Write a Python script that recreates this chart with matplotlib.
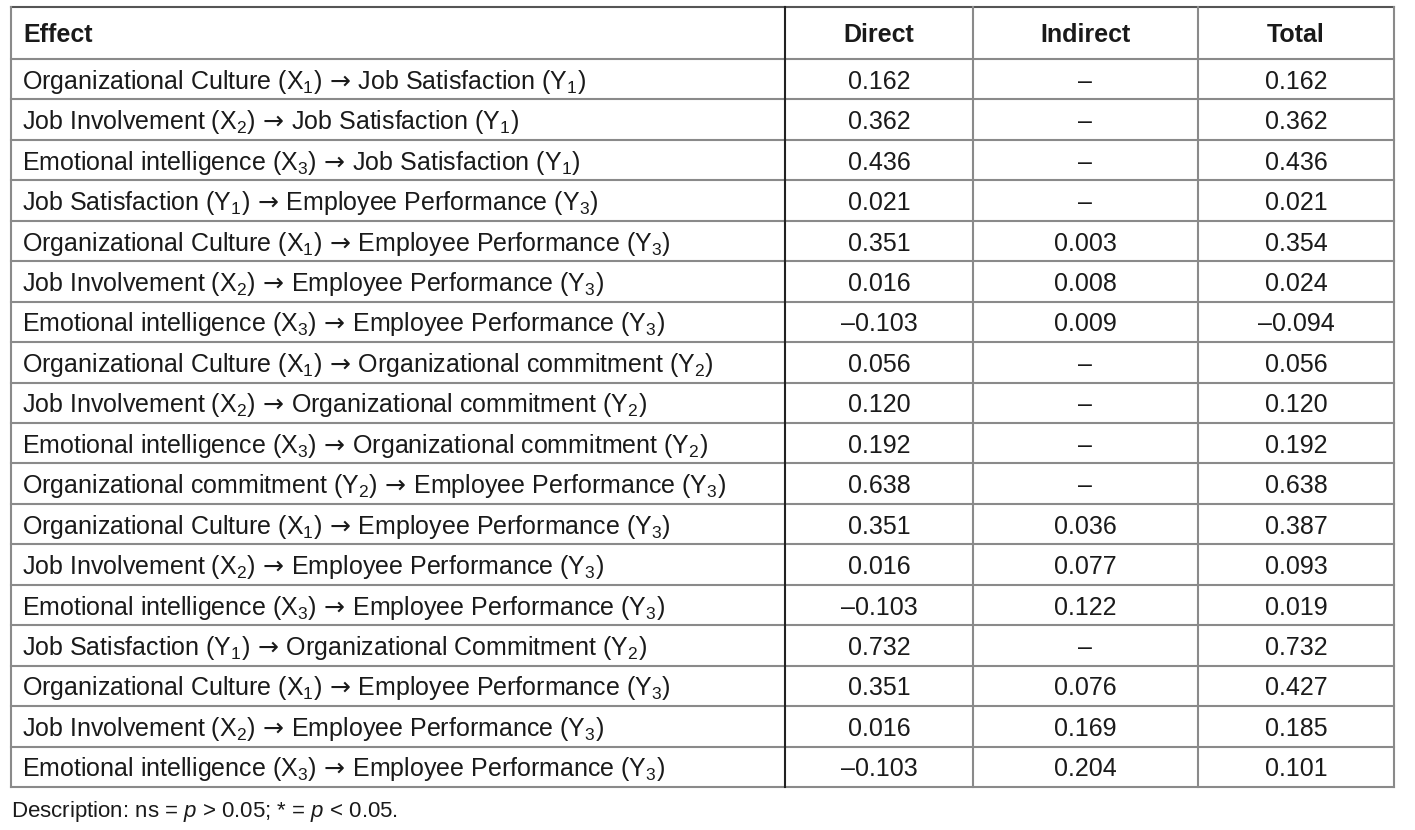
import matplotlib
matplotlib.use('Agg')
import matplotlib.pyplot as plt

plt.rcParams['font.family'] = ['Liberation Sans', 'DejaVu Sans']
plt.rcParams['mathtext.fontset'] = 'custom'
plt.rcParams['mathtext.rm'] = 'Liberation Sans'
plt.rcParams['mathtext.it'] = 'Liberation Sans:italic'
plt.rcParams['mathtext.bf'] = 'Liberation Sans:bold'
plt.rcParams['mathtext.sf'] = 'DejaVu Sans'

headers = ['Effect', 'Direct', 'Indirect', 'Total']

# arrow drawn in DejaVu (bigger than the Liberation one), thin space each side
AR = r'$\,\mathsf{\rightarrow}\,$'
effects = [
    'Organizational Culture (X$_1$)' + AR + 'Job Satisfaction (Y$_1$)',
    'Job Involvement (X$_2$)' + AR + 'Job Satisfaction (Y$_1$)',
    'Emotional intelligence (X$_3$)' + AR + 'Job Satisfaction (Y$_1$)',
    'Job Satisfaction (Y$_1$)' + AR + 'Employee Performance (Y$_3$)',
    'Organizational Culture (X$_1$)' + AR + 'Employee Performance (Y$_3$)',
    'Job Involvement (X$_2$)' + AR + 'Employee Performance (Y$_3$)',
    'Emotional intelligence (X$_3$)' + AR + 'Employee Performance (Y$_3$)',
    'Organizational Culture (X$_1$)' + AR + 'Organizational commitment (Y$_2$)',
    'Job Involvement (X$_2$)' + AR + 'Organizational commitment (Y$_2$)',
    'Emotional intelligence (X$_3$)' + AR + 'Organizational commitment (Y$_2$)',
    'Organizational commitment (Y$_2$)' + AR + 'Employee Performance (Y$_3$)',
    'Organizational Culture (X$_1$)' + AR + 'Employee Performance (Y$_3$)',
    'Job Involvement (X$_2$)' + AR + 'Employee Performance (Y$_3$)',
    'Emotional intelligence (X$_3$)' + AR + 'Employee Performance (Y$_3$)',
    'Job Satisfaction (Y$_1$)' + AR + 'Organizational Commitment (Y$_2$)',
    'Organizational Culture (X$_1$)' + AR + 'Employee Performance (Y$_3$)',
    'Job Involvement (X$_2$)' + AR + 'Employee Performance (Y$_3$)',
    'Emotional intelligence (X$_3$)' + AR + 'Employee Performance (Y$_3$)',
]
direct = ['0.162', '0.362', '0.436', '0.021', '0.351', '0.016', '\u20130.103',
          '0.056', '0.120', '0.192', '0.638', '0.351', '0.016', '\u20130.103',
          '0.732', '0.351', '0.016', '\u20130.103']
indirect = ['\u2013', '\u2013', '\u2013', '\u2013', '0.003', '0.008', '0.009',
            '\u2013', '\u2013', '\u2013', '\u2013', '0.036', '0.077', '0.122',
            '\u2013', '0.076', '0.169', '0.204']
total = ['0.162', '0.362', '0.436', '0.021', '0.354', '0.024', '\u20130.094',
         '0.056', '0.120', '0.192', '0.638', '0.387', '0.093', '0.019',
         '0.732', '0.427', '0.185', '0.101']
note = 'Description: ns = $p$ > 0.05; * = $p$ < 0.05.'

# layout in pixels
W, H = 1415, 830
col_x = [11, 785, 973, 1198, 1394]
top, head_bot, bottom = 7, 59, 787
n = len(effects)
row_h = (bottom - head_bot) / n
line_c = '#8a8a8a'
fs = 18
txt_c = '#1a1a1a'

fig = plt.figure(figsize=(W / 100, H / 100), dpi=100)
ax = fig.add_axes([0, 0, 1, 1])
ax.set_xlim(0, W)
ax.set_ylim(H, 0)
ax.axis('off')

# grid lines
ax.plot([col_x[0], col_x[-1]], [top, top], color='#555555', lw=1.5)
ax.plot([col_x[0], col_x[-1]], [head_bot, head_bot], color=line_c, lw=1.5)
for i in range(1, n + 1):
    y = head_bot + i * row_h
    ax.plot([col_x[0], col_x[-1]], [y, y], color=line_c, lw=1.5)
for j, x in enumerate(col_x):
    c = '#222222' if j == 1 else line_c
    ax.plot([x, x], [top, bottom], color=c, lw=1.5)

# header
hy = top + 35
ax.text(col_x[0] + 12, hy, headers[0], ha='left', va='baseline', fontsize=fs,
        fontweight='bold', color=txt_c)
for j in range(1, 4):
    ax.text((col_x[j] + col_x[j + 1]) / 2, hy, headers[j], ha='center',
            va='baseline', fontsize=fs, fontweight='bold', color=txt_c)

# body
for i in range(n):
    y = head_bot + (i + 0.5) * row_h + 9.5
    ax.text(col_x[0] + 11, y, effects[i], ha='left', va='baseline', fontsize=fs,
            color=txt_c)
    for j, vals in enumerate([direct, indirect, total], start=1):
        ax.text((col_x[j] + col_x[j + 1]) / 2, y, vals[i], ha='center',
                va='baseline', fontsize=fs, color=txt_c)

ax.text(col_x[0], 817, note, ha='left', va='baseline', fontsize=16,
        color=txt_c)

fig.savefig('out.png', dpi=100)
